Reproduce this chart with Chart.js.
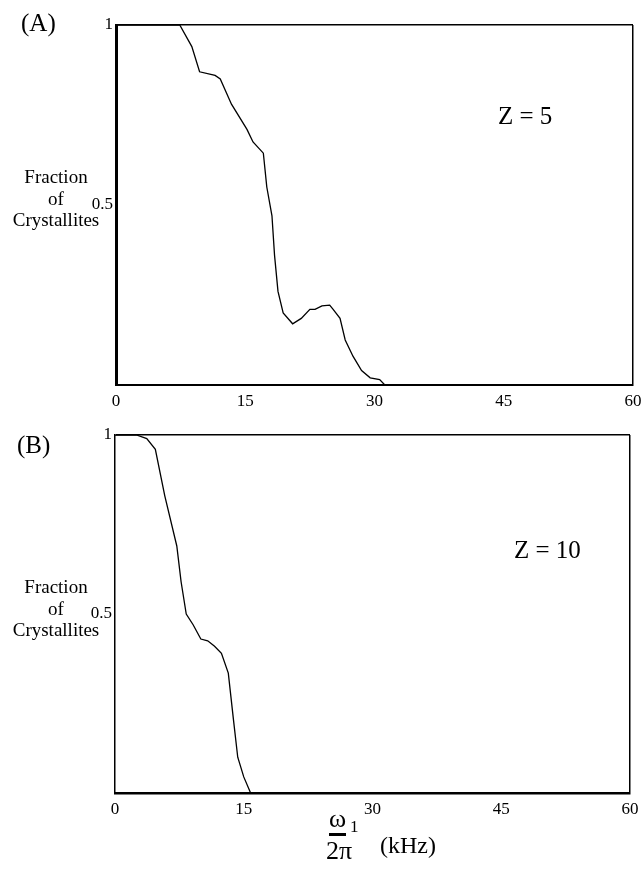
<!DOCTYPE html>
<html>
<head>
<meta charset="utf-8">
<script src="https://cdn.jsdelivr.net/npm/chart.js@4"></script>
<style>
  body { margin: 0; background: #fff; }
  #page { position: relative; width: 641px; height: 871px; font-family: "Liberation Serif", serif; color: #000; }
  canvas { position: absolute; left: 0; }
  .lbl { position: absolute; line-height: 1; white-space: nowrap; }
  .ylab { position: absolute; width: 112px; left: 0; text-align: center; font-size: 19px; line-height: 21.5px; }
</style>
</head>
<body>
<div id="page">
  <canvas id="chartA" width="641" height="410" style="top:0"></canvas>
  <canvas id="chartB" width="641" height="410" style="top:410px"></canvas>

  <div class="lbl" style="left:21px; top:10px; font-size:25px">(A)</div>
  <div class="lbl" style="left:17px; top:432px; font-size:25px">(B)</div>

  <div class="ylab" style="top:166px">Fraction<br>of<br>Crystallites</div>
  <div class="ylab" style="top:576px">Fraction<br>of<br>Crystallites</div>

  <div class="lbl" style="left:498px; top:103px; font-size:25px">Z = 5</div>
  <div class="lbl" style="left:514px; top:537px; font-size:25px">Z = 10</div>

  <div class="lbl" style="left:329px; top:806px; font-size:26px; border-bottom:3px solid #000; padding-bottom:1px">ω</div>
  <div class="lbl" style="left:350px; top:818px; font-size:17px">1</div>
  <div class="lbl" style="left:326px; top:838px; font-size:26px">2π</div>
  <div class="lbl" style="left:380px; top:833px; font-size:24px">(kHz)</div>
</div>

<script>
// valeurs
const xTicks = [0, 15, 30, 45, 60];
const yTickLabels = { 1: "1", 0.5: "0.5" };

// (A) Z = 5
const freqA = [0, 7.4, 8.8, 9.7, 11.5, 12.1, 13.4, 15.2, 15.9, 17.1, 17.5, 18.1, 18.4, 18.8, 19.4, 20.5, 21.5, 22.5, 23.1, 23.9, 24.8, 25.2, 26.0, 26.6, 27.5, 28.5, 29.5, 30.6, 31.2, 60];
const fracA = [1, 1, 0.94, 0.87, 0.86, 0.85, 0.78, 0.71, 0.675, 0.644, 0.55, 0.47, 0.36, 0.26, 0.20, 0.17, 0.185, 0.21, 0.21, 0.22, 0.222, 0.21, 0.185, 0.125, 0.08, 0.04, 0.02, 0.015, 0, 0];

// (B) Z = 10
const freqB = [0, 2.5, 3.7, 4.7, 5.8, 7.2, 7.7, 8.3, 9.1, 10.0, 10.8, 11.6, 12.4, 13.2, 13.8, 14.3, 15.0, 15.8, 60];
const fracB = [1, 1, 0.99, 0.96, 0.83, 0.69, 0.59, 0.50, 0.47, 0.43, 0.425, 0.41, 0.39, 0.335, 0.205, 0.10, 0.045, 0, 0];

const tickFont = { family: "Liberation Serif", size: 17 };

function makeChart(id, xs, ys, opt) {
    const pts = xs.map((x, i) => ({ x: x, y: ys[i] }));
    return new Chart(document.getElementById(id), {
        type: "line",
        data: {
            datasets: [{
                data: pts,
                borderColor: "#000",
                borderWidth: 1.3,
                pointRadius: 0,
                tension: 0,
                fill: false
            }]
        },
        options: {
            responsive: false,
            animation: false,
            layout: { padding: { top: 25, left: 0, right: 0, bottom: 0 } },
            plugins: { legend: { display: false }, tooltip: { enabled: false } },
            scales: {
                x: {
                    type: "linear",
                    min: 0, max: 60,
                    afterBuildTicks: s => { s.ticks = xTicks.map(v => ({ value: v })); },
                    border: { color: "#000", width: opt.xBorder },
                    grid: {
                        drawTicks: false,
                        lineWidth: 1.5,
                        color: c => c.tick && c.tick.value === 60 ? "#000" : "rgba(0,0,0,0)"
                    },
                    ticks: { color: "#000", font: tickFont, padding: 6, maxRotation: 0 },
                    afterFit: s => {
                        s.height = opt.xHeight;
                        s.paddingLeft = 0;
                        s.paddingRight = opt.right;
                    }
                },
                y: {
                    min: 0, max: 1,
                    ticks: {
                        stepSize: 0.5,
                        color: "#000",
                        font: tickFont,
                        padding: 3,
                        callback: v => yTickLabels[v] || ""
                    },
                    border: { color: "#000", width: opt.yBorder },
                    grid: {
                        drawTicks: false,
                        lineWidth: 1.5,
                        color: c => c.tick && c.tick.value === 1 ? "#000" : "rgba(0,0,0,0)"
                    },
                    afterFit: s => {
                        s.width = opt.left;
                        s.paddingTop = 0;
                        s.paddingBottom = 0;
                    }
                }
            }
        }
    });
}

makeChart("chartA", freqA, fracA, { left: 116, right: 8, xHeight: 25, xBorder: 2, yBorder: 3 });
makeChart("chartB", freqB, fracB, { left: 115, right: 11, xHeight: 27, xBorder: 2.5, yBorder: 1.5 });
</script>
</body>
</html>
